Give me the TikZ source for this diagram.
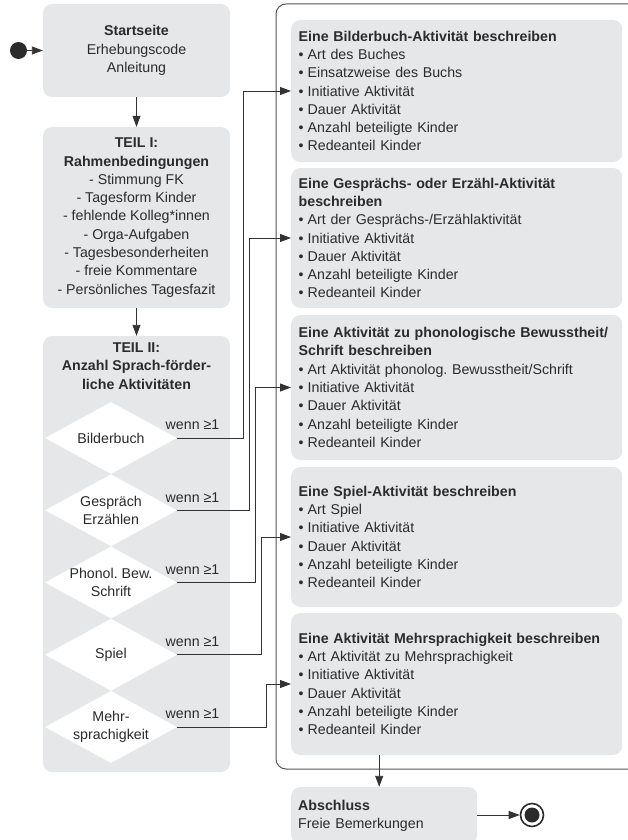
\documentclass[tikz,border=0pt]{standalone}
\usepackage{fontspec}
\setmainfont{Liberation Sans}
\usetikzlibrary{arrows.meta,shapes.geometric}
\definecolor{boxgray}{HTML}{E6E7E8}
\definecolor{txt}{HTML}{2B2B2B}
\definecolor{ln}{HTML}{333333}
\definecolor{cont}{HTML}{555555}
\frenchspacing
\begin{document}
\begin{tikzpicture}[x=1pt,y=-1pt,
  every node/.style={text=txt, font=\fontsize{14.2}{18.3}\selectfont},
  graybox/.style={fill=boxgray, rounded corners=9pt, inner sep=0pt},
  leftbox/.style={graybox, anchor=west, minimum width=331pt, text width=316pt, inner xsep=7.5pt, align=left},
  dia/.style={diamond, fill=white, minimum width=132pt, minimum height=72pt, inner sep=0pt},
  arr/.style={draw=ln, line width=0.9pt, -{Triangle[length=11pt,width=8pt]}},
  cond/.style={inner sep=0pt},
]
\useasboundingbox (0,0) rectangle (628,840);
\clip (0,0) rectangle (628,840);

% outer container
\draw[cont, line width=1pt, rounded corners=10pt] (640,4) -- (276,4) -- (276,769) -- (640,769);

% left column
\node[graybox, minimum width=187pt, minimum height=93pt, align=center] (start) at (136.5,50.5)
  {\textbf{Startseite}\\Erhebungscode\\Anleitung};
\node[graybox, minimum width=187pt, minimum height=181pt, align=center] (teil1) at (136.5,217.5)
  {\textbf{TEIL I:}\\\textbf{Rahmenbedingungen}\\- Stimmung FK\\- Tagesform Kinder\\- fehlende Kolleg*innen\\- Orga-Aufgaben\\- Tagesbesonderheiten\\- freie Kommentare\\- Persönliches Tagesfazit};
\node[graybox, minimum width=187pt, minimum height=436pt] (teil2) at (136.5,554) {};
\node[align=center, inner sep=0pt] (t2head) at (136.5,366)
  {\textbf{TEIL II:}\\\textbf{Anzahl Sprach-förder-}\\\textbf{liche Aktivitäten}};

% diamonds
\node[dia] (d1) at (111,438) {};
\node[dia] (d2) at (111,510.25) {};
\node[dia] (d3) at (111,582.5) {};
\node[dia] (d4) at (111,654.75) {};
\node[dia] (d5) at (111,727) {};
\node[align=center, inner sep=0pt] (t1) at (d1) {Bilderbuch};
\node[align=center, inner sep=0pt] (t2) at (d2) {Gespräch\\Erzählen};
\node[align=center, inner sep=0pt] (t3) at (d3) {Phonol. Bew.\\Schrift};
\node[align=center, inner sep=0pt] (t4) at (d4) {Spiel};
\node[align=center, inner sep=0pt] (t5) at (d5) {Mehr-\\sprachigkeit};
\node[cond] (w1) at (192.5,425) {wenn ≥1};
\node[cond] (w2) at (192.5,497.25) {wenn ≥1};
\node[cond] (w3) at (192.5,569.5) {wenn ≥1};
\node[cond] (w4) at (192.5,641.75) {wenn ≥1};
\node[cond] (w5) at (192.5,714) {wenn ≥1};

% init
\node[circle, fill=txt, minimum size=17pt, inner sep=0pt] (init) at (18.5,50.5) {};
\draw[arr] (init) -- (start.west);
\draw[arr] (start.south) -- (teil1.north);
\draw[arr] (teil1.south) -- (teil2.north);

% right column boxes
\node[leftbox, minimum height=142pt] (box1) at (291,91)
  {\textbf{Eine Bilderbuch-Aktivität beschreiben}\\
   \textbullet\hspace{4pt}Art des Buches\\
   \textbullet\hspace{4pt}Einsatzweise des Buchs\\
   \textbullet\hspace{4pt}Initiative Aktivität\\
   \textbullet\hspace{4pt}Dauer Aktivität\\
   \textbullet\hspace{4pt}Anzahl beteiligte Kinder\\
   \textbullet\hspace{4pt}Redeanteil Kinder};
\node[leftbox, minimum height=140pt] (box2) at (291,238)
  {\textbf{Eine Gesprächs- oder Erzähl-Aktivität}\\
   \textbf{beschreiben}\\
   \textbullet\hspace{4pt}Art der Gesprächs-/Erzählaktivität\\
   \textbullet\hspace{4pt}Initiative Aktivität\\
   \textbullet\hspace{4pt}Dauer Aktivität\\
   \textbullet\hspace{4pt}Anzahl beteiligte Kinder\\
   \textbullet\hspace{4pt}Redeanteil Kinder};
\node[leftbox, minimum height=145pt] (box3) at (291,387.5)
  {\textbf{Eine Aktivität zu phonologische Bewusstheit/}\\
   \textbf{Schrift beschreiben}\\
   \textbullet\hspace{4pt}Art Aktivität phonolog. Bewusstheit/Schrift\\
   \textbullet\hspace{4pt}Initiative Aktivität\\
   \textbullet\hspace{4pt}Dauer Aktivität\\
   \textbullet\hspace{4pt}Anzahl beteiligte Kinder\\
   \textbullet\hspace{4pt}Redeanteil Kinder};
\node[leftbox, minimum height=140pt] (box4) at (291,537)
  {\textbf{Eine Spiel-Aktivität beschreiben}\\
   \textbullet\hspace{4pt}Art Spiel\\
   \textbullet\hspace{4pt}Initiative Aktivität\\
   \textbullet\hspace{4pt}Dauer Aktivität\\
   \textbullet\hspace{4pt}Anzahl beteiligte Kinder\\
   \textbullet\hspace{4pt}Redeanteil Kinder};
\node[leftbox, minimum height=142pt] (box5) at (291,684)
  {\textbf{Eine Aktivität Mehrsprachigkeit beschreiben}\\
   \textbullet\hspace{4pt}Art Aktivität zu Mehrsprachigkeit\\
   \textbullet\hspace{4pt}Initiative Aktivität\\
   \textbullet\hspace{4pt}Dauer Aktivität\\
   \textbullet\hspace{4pt}Anzahl beteiligte Kinder\\
   \textbullet\hspace{4pt}Redeanteil Kinder};

% connectors from diamonds
\draw[arr] (d1.east) -- ++(66,0) |- (box1.west);
\draw[arr] (d2.east) -- ++(72.5,0) |- (box2.west);
\draw[arr] (d3.east) -- ++(78.5,0) |- (box3.west);
\draw[arr] (d4.east) -- ++(84,0) |- (box4.west);
\draw[arr] (d5.east) -- ++(89.5,0) |- (box5.west);

% Abschluss
\node[graybox, anchor=west, minimum width=186pt, text width=172pt, inner xsep=7pt, minimum height=57pt, align=left] (absch) at (291,815.5)
  {\textbf{Abschluss}\\Freie Bemerkungen};
\coordinate (ab) at ([xshift=-5pt]absch.north);
\draw[arr] (box5.south -| ab) -- (ab);

% final state
\node[circle, draw=txt, line width=1.6pt, minimum size=23pt, inner sep=0pt] (fin) at (532,815) {};
\node[circle, fill=txt, minimum size=15pt, inner sep=0pt] (finc) at (fin) {};
\draw[arr] (absch.east |- fin) -- (fin.west);
\end{tikzpicture}
\end{document}
